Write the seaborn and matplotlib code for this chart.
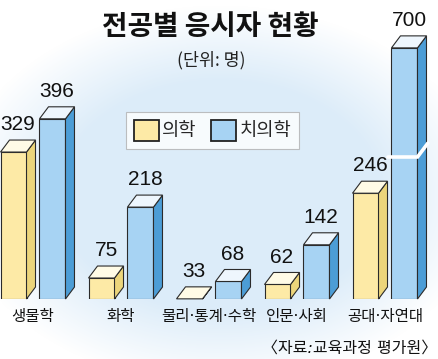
import numpy as np
import pandas as pd
import matplotlib.pyplot as plt
from matplotlib.patches import Polygon
import seaborn as sns

# === data ===
majors = ["생물학", "화학", "물리·통계·수학", "인문·사회", "공대·자연대"]
series = ["의학", "치의학"]
medicine = [329, 75, 33, 62, 246]
dentistry = [396, 218, 68, 142, 700]

# broken bar: values above BREAK_LIMIT are drawn shortened by BREAK_SKIP
BREAK_LIMIT = 600
BREAK_SKIP = 161
BREAK_AT = 319
BASE = 32.7  # where the 3D bars sit

front_colors = ["#fdeaa6", "#a7d3f3"]
side_colors = ["#ecd57b", "#4c9dd6"]
top_colors = ["#fffbe6", "#eef6fd"]
edge = "#2b2b2b"

df = pd.DataFrame({
    "major": majors * 2,
    "series": [series[0]] * len(majors) + [series[1]] * len(majors),
    "value": medicine + dentistry,
})
df["shown"] = np.where(df["value"] > BREAK_LIMIT, df["value"] - BREAK_SKIP, df["value"])

sns.set_style("white")
plt.rcParams["font.family"] = ["Noto Sans CJK KR", "DejaVu Sans"]
# latin font first so the middle dot / colon stay narrow, hangul falls back
narrow_fam = ["DejaVu Sans", "Noto Sans CJK KR"]

W, H = 439, 359
fig = plt.figure(figsize=(W / 100, H / 100), dpi=100)
fig.patch.set_facecolor("white")

# soft blue glow behind the chart
bg = fig.add_axes([0, 0, 1, 1], zorder=-1)
yy, xx = np.mgrid[0:H, 0:W]
r = np.sqrt(((xx - 220) / 265) ** 2 + ((yy - 195) / 190) ** 2)
a = np.clip((1 - r) / 0.4, 0, 1)
img = np.ones((H, W, 3))
blue = np.array([220, 236, 249]) / 255
img = img * (1 - a[..., None]) + blue * a[..., None]
bg.imshow(img, aspect="auto", extent=(0, W, H, 0))
bg.axis("off")

ax = fig.add_axes([0, 60 / H, 1, 299 / H])
ax.patch.set_alpha(0)
sns.barplot(data=df, x="major", y="shown", hue="series", order=majors,
            hue_order=series, palette=front_colors, saturation=1,
            width=0.886, gap=0.333, errorbar=None, edgecolor=edge,
            linewidth=0.8, ax=ax)

ax.set_xlim(-33 / 88, (W - 33) / 88)
ax.set_ylim(BASE, BASE + 299 / 0.496)
sns.despine(ax=ax, left=True, bottom=True)
ax.set_yticks([])
ax.set_xlabel("")
ax.set_ylabel("")
ax.tick_params(axis="x", length=0, pad=7, labelsize=11.2, colors="#111")
for lab in ax.get_xticklabels():
    lab.set_family(narrow_fam)

fig.canvas.draw()
p0 = ax.transData.transform((0, BASE))
p1 = ax.transData.transform((1, BASE + 1))
dx = 9 / (p1[0] - p0[0])
dy = 12 / (p1[1] - p0[1])

for i, cont in enumerate(ax.containers):
    vals = medicine if i == 0 else dentistry
    for bar, v in zip(cont, vals):
        top = bar.get_height()
        bar.set_y(BASE)
        bar.set_height(top - BASE)
        x0, w = bar.get_x(), bar.get_width()
        side = [(x0 + w, BASE), (x0 + w + dx, BASE + dy),
                (x0 + w + dx, top + dy), (x0 + w, top)]
        lid = [(x0, top), (x0 + w, top), (x0 + w + dx, top + dy), (x0 + dx, top + dy)]
        ax.add_patch(Polygon(side, closed=True, facecolor=side_colors[i],
                             edgecolor=edge, lw=0.8, zorder=2, clip_on=False))
        ax.add_patch(Polygon(lid, closed=True, facecolor=top_colors[i],
                             edgecolor=edge, lw=0.8, zorder=2, clip_on=False))
        ax.text(x0 + (w + dx) / 2, top + dy + 12, f"{v}", ha="center", va="bottom",
                fontsize=15, family="Liberation Sans", color="#111", zorder=3)
        if v > BREAK_LIMIT:
            ax.plot([x0 - 0.04, x0 + w, x0 + w + dx * 1.15],
                    [BREAK_AT, BREAK_AT, BREAK_AT + dy * 1.15],
                    color="white", lw=2.6, zorder=4, clip_on=False,
                    solid_joinstyle="miter")

sns.move_legend(ax, "upper left", bbox_to_anchor=(126 / W, (299 - 112) / 299),
                title=None, ncol=2, frameon=True, fontsize=13.5,
                handlelength=1.35, handleheight=1.35, handletextpad=0.15,
                columnspacing=0.8, borderpad=0.4, borderaxespad=0)
leg = ax.get_legend()
leg.get_frame().set_edgecolor("#b0b0b0")
leg.get_frame().set_linewidth(0.8)
leg.get_frame().set_boxstyle("square", pad=0)
for h in leg.legend_handles:
    h.set_edgecolor("#222")
    h.set_linewidth(1.3)

fig.text(210 / W, 1 - 27 / H, "전공별 응시자 현황", ha="center", va="center",
         fontsize=20, fontweight="bold", color="#111")
fig.text(211 / W, 1 - 60 / H, "(단위: 명)", ha="center", va="center",
         fontsize=12.5, color="#222")
fig.text(437 / W, 1 - 348 / H, "〈자료:교육과정 평가원〉", ha="right", va="center",
         fontsize=11.5, style="italic", family=narrow_fam, color="#111")

fig.savefig("out.png", dpi=100)
